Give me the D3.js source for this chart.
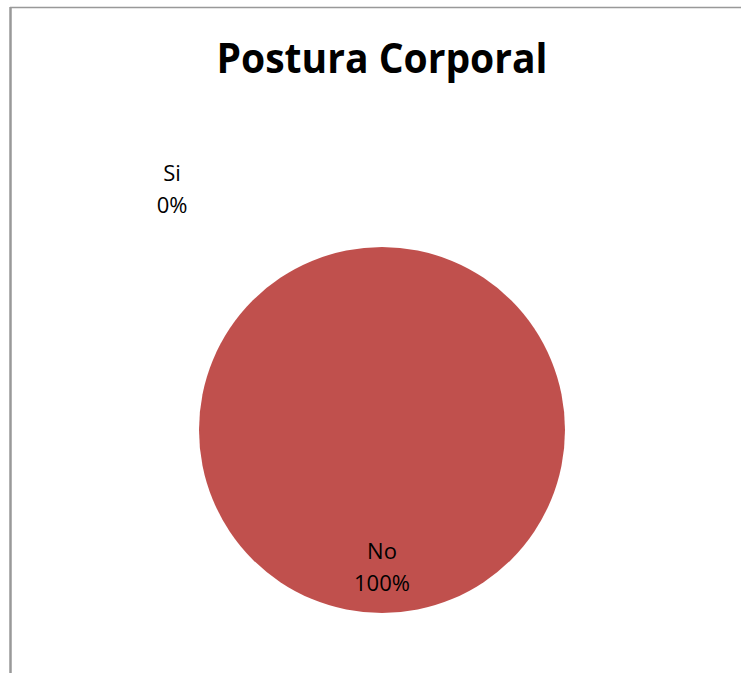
<!DOCTYPE html>
<html>
<head>
<meta charset="utf-8">
<script src="https://cdnjs.cloudflare.com/ajax/libs/d3/7.8.5/d3.min.js"></script>
<style>
  body { margin: 0; background: #fff; }
  svg { display: block; }
</style>
</head>
<body>
<script>
var categories = ["Si", "No"]
var values = [0, 100]
var colors = ["#4F81BD", "#C0504D"]
var title = "Postura Corporal"

var width = 742, height = 673
var svg = d3.select("body").append("svg")
    .attr("width", width)
    .attr("height", height)

// chart area frame (only left and top edges show)
svg.append("line")
    .attr("x1", 10.5).attr("y1", 7).attr("x2", 10.5).attr("y2", height)
    .attr("stroke", "#999").attr("stroke-width", 2.5)
svg.append("line")
    .attr("x1", 10).attr("y1", 7.5).attr("x2", 741).attr("y2", 7.5)
    .attr("stroke", "#999").attr("stroke-width", 1.5)

svg.append("text")
    .attr("x", 382).attr("y", 73)
    .attr("text-anchor", "middle")
    .attr("font-family", "'Open Sans', sans-serif")
    .attr("font-weight", "bold")
    .attr("font-size", 42)
    .attr("textLength", 331)
    .attr("lengthAdjust", "spacingAndGlyphs")
    .text(title)

var cx = 382, cy = 430, r = 183
var data = categories.map(function(c, i) { return { label: c, value: values[i], color: colors[i] } })
var total = d3.sum(values)

var pie = d3.pie().sort(null).value(function(d) { return d.value })
var arc = d3.arc().innerRadius(0).outerRadius(r)
var labelArc = d3.arc().innerRadius(r * 0.75).outerRadius(r * 0.75)

var g = svg.append("g").attr("transform", "translate(" + [cx, cy] + ")")
var arcs = pie(data)

g.selectAll("path")
    .data(arcs)
    .enter().append("path")
    .attr("d", arc)
    .attr("fill", function(d) { return d.data.color })

var labels = g.selectAll("g.lbl")
    .data(arcs)
    .enter().append("g")
    .attr("class", "lbl")
    .attr("transform", function(d) {
        if (d.data.value === 0) return "translate(" + [-210, -241] + ")"
        var c = labelArc.centroid(d)
        return "translate(" + c + ")"
    })

labels.append("text")
    .attr("text-anchor", "middle")
    .attr("y", -8)
    .attr("font-family", "'Open Sans', sans-serif")
    .attr("font-size", 22)
    .text(function(d) { return d.data.label })
labels.append("text")
    .attr("text-anchor", "middle")
    .attr("y", 24)
    .attr("font-family", "'Open Sans', sans-serif")
    .attr("font-size", 22)
    .text(function(d) { return Math.round(d.data.value / total * 100) + "%" })
</script>
</body>
</html>
